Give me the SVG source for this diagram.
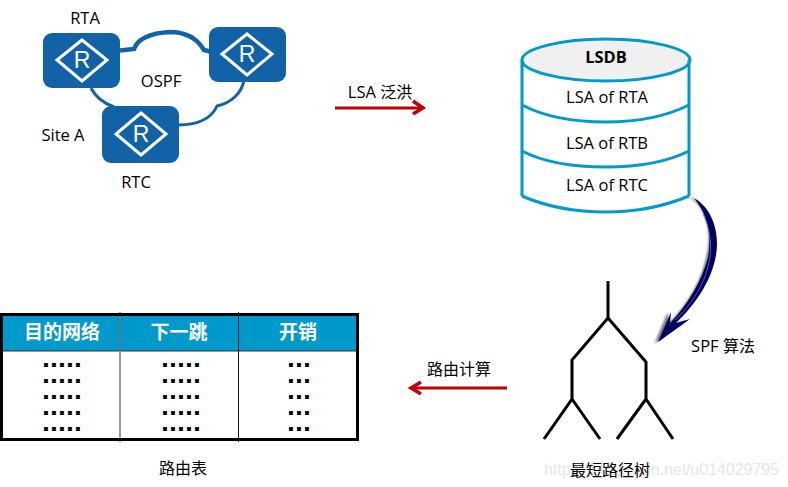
<svg xmlns="http://www.w3.org/2000/svg" width="788" height="487" viewBox="0 0 788 487">
<style>
text{font-family:"Open Sans","Noto Sans CJK SC","Noto Sans",sans-serif;font-size:16.500px;fill:#000}
.c{text-anchor:middle}
.z{font-family:"Noto Sans CJK SC",sans-serif;font-size:16px}
.rt{fill:#1262a8}
.dia{fill:none;stroke:#fff;stroke-width:3}
.rl{font-family:"Liberation Sans",sans-serif;font-size:23px;fill:#fff;stroke:none;text-anchor:middle}
.db{fill:none;stroke:#0099cc;stroke-width:3}
.tree{fill:none;stroke:#000;stroke-width:3}
.red{fill:none;stroke:#c00000;stroke-width:3}
.redh{fill:none;stroke:#c00000;stroke-width:3.5}
.th{font-family:"Noto Sans CJK SC",sans-serif;font-size:19px;font-weight:700;fill:#fff;text-anchor:middle}
.dots{font-family:"Liberation Sans",sans-serif;font-size:14px;font-weight:700;text-anchor:middle;stroke:#000;stroke-width:1.800;letter-spacing:4.100px}
.cl{fill:none;stroke:#1262a8;stroke-width:3}
</style>
<defs>
<filter id="sh" x="-30%" y="-30%" width="160%" height="160%"><feGaussianBlur stdDeviation="1.300"/></filter>
</defs>
<text x="85" y="24" class="c">RTA</text>
<text x="161" y="87" class="c">OSPF</text>
<text x="63" y="141" class="c">Site A</text>
<text x="136" y="188" class="c">RTC</text>
<g id="connectors">
<path class="cl" style="stroke-width:4.500" d="M120 50.500L134 49C138 38 152 33 170 32C188 32 198 40 204 50L212 52"/>
<path class="cl" d="M91 88C96 98 103 103 114 107"/>
<path class="cl" d="M179 125C195 125 211 120 217 106C231 103 242 93 244 80"/>
<path class="red" d="M335 108H421"/>
<path class="redh" d="M413 101L423 108L413 114"/>
<path class="red" d="M507 388H414"/>
<path class="redh" d="M421 382L411 388L421 394"/>
<g>
<path d="M691 197C706 206 713 225 709 250C704 280 688 305 671 322L669 312L656 343L688 320L674 324C692 306 710 282 715 255C719 230 712 207 693 197Z" fill="#777" filter="url(#sh)" transform="translate(-1.500 0.500)"/>
<path d="M694 198C712 208 720 232 716 255C712 280 695 305 676 323L690 319L658 342L671 312L670 323C688 305 702 280 708 258C712 235 708 215 694 198Z" fill="#00005f"/>
<path d="M703 214C713 235 713 256 704 279C697 296 686 310 675 320" fill="none" stroke="#6a6ab0" stroke-width="0.800"/>
</g>
</g>
<g id="rta"><rect class="rt" x="43" y="33" width="77" height="55" rx="9"/><path class="dia" d="M82 40L107 60L82 81L57 60Z"/><text class="rl" x="82" y="68">R</text></g>
<g id="rtb"><rect class="rt" x="209" y="27" width="77" height="55" rx="9"/><path class="dia" d="M247 34L272 54L247 75L222 54Z"/><text class="rl" x="247" y="62">R</text></g>
<g id="rtc"><rect class="rt" x="102" y="106" width="77" height="57" rx="9"/><path class="dia" d="M141 113L166 134L141 155L116 134Z"/><text class="rl" x="141" y="142">R</text></g>
<text x="380" y="98" class="c">LSA <tspan class="z">泛洪</tspan></text>
<g id="lsdb">
<path d="M522 60C522 49 560 39 606 39C652 39 690 49 690 60C690 71 652 81 606 81C560 81 522 71 522 60Z" fill="#f0f0f0" stroke="#0099cc" stroke-width="3"/>
<path class="db" d="M522 60V196"/><path class="db" d="M689 60V196"/>
<path class="db" d="M522 105C545 117 575 122 606 122C637 122 665 117 689 105"/>
<path class="db" d="M522 151C545 163 575 167 606 167C637 167 665 163 689 151"/>
<path class="db" d="M522 196C545 206 575 212 606 212C637 212 665 206 689 196"/>
<text x="606" y="63" class="c" style="font-weight:700">LSDB</text>
<text x="607" y="103" class="c">LSA of RTA</text>
<text x="607" y="149" class="c">LSA of RTB</text>
<text x="607" y="191" class="c">LSA of RTC</text>
</g>
<text x="723" y="352" class="c">SPF <tspan class="z">算法</tspan></text>
<text x="459" y="375" class="c z">路由计算</text>
<g id="tree">
<path class="tree" d="M608 281V318L572 360V399L544 439M572 399L600 439M608 318L646 362V399L617 439M646 399L673 439"/>
</g>
<g id="table">
<rect x="2" y="315" width="355" height="36" fill="#0099cc"/>
<path d="M1 351H358" stroke="#333" stroke-width="1"/>
<path d="M120 312V442" stroke="#777" stroke-width="1.500"/>
<path d="M238.500 312V442" stroke="#111" stroke-width="1"/>
<rect x="1.500" y="314.500" width="356" height="125" fill="none" stroke="#000" stroke-width="3"/>
<text class="th" x="62" y="339">目的网络</text>
<text class="th" x="179" y="339">下一跳</text>
<text class="th" x="298" y="339">开销</text>
<g>
<text class="dots" x="64" y="366">.....</text><text class="dots" x="183" y="366">.....</text><text class="dots" x="301" y="366">...</text>
<text class="dots" x="64" y="382">.....</text><text class="dots" x="183" y="382">.....</text><text class="dots" x="301" y="382">...</text>
<text class="dots" x="64" y="398">.....</text><text class="dots" x="183" y="398">.....</text><text class="dots" x="301" y="398">...</text>
<text class="dots" x="64" y="414">.....</text><text class="dots" x="183" y="414">.....</text><text class="dots" x="301" y="414">...</text>
<text class="dots" x="64" y="430">.....</text><text class="dots" x="183" y="430">.....</text><text class="dots" x="301" y="430">...</text>
</g>
</g>
<text x="183" y="474" class="c z">路由表</text>
<text x="544" y="475" style="font-family:'Liberation Sans',sans-serif;font-size:16px;fill:#e6e6e6" textLength="235">https://blog.csdn.net/u014029795</text>
<text x="610" y="476" class="c z">最短路径树</text>
</svg>
